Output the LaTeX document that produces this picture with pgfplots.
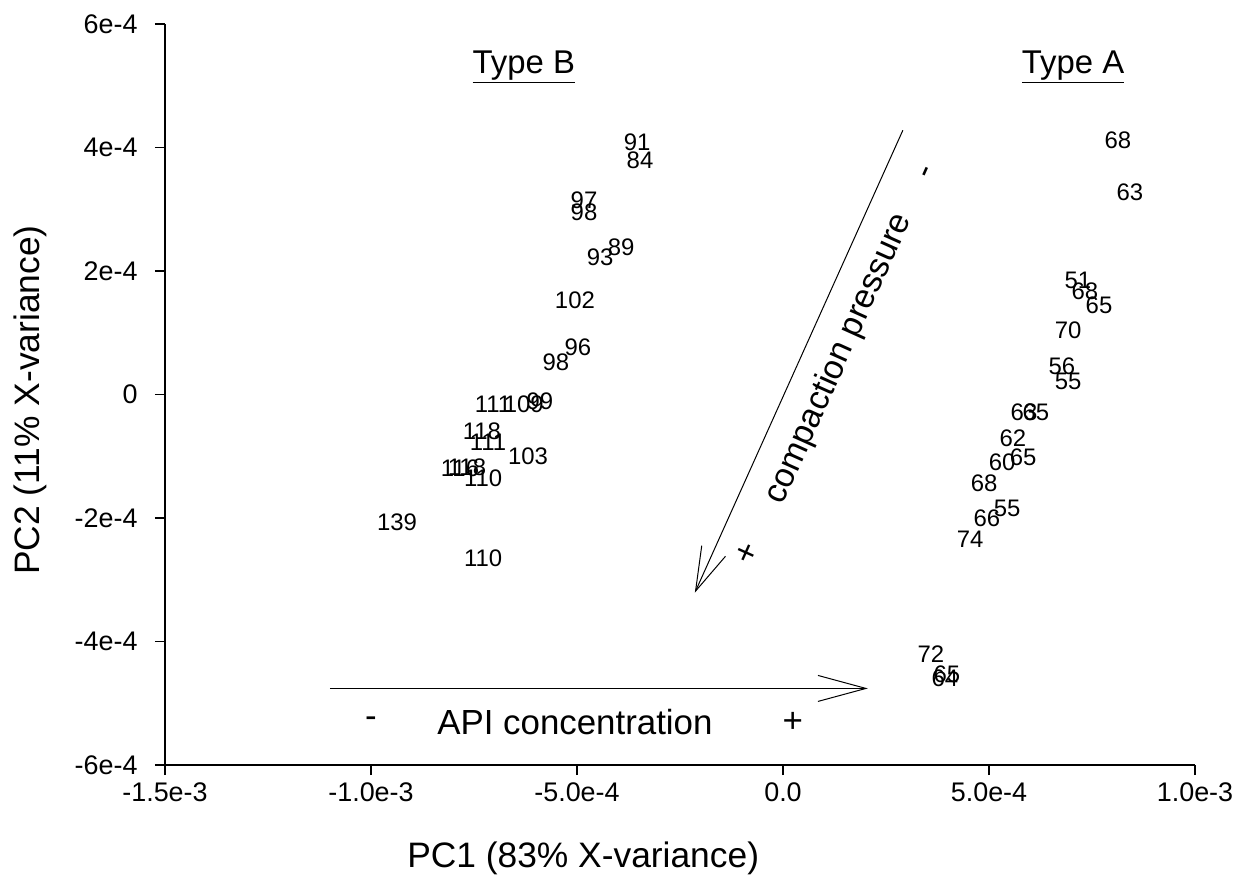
\documentclass[border=0pt]{standalone}
\usepackage{pgfplots}
\pgfplotsset{compat=1.18}
\usepackage{pgfplotstable}
\usetikzlibrary{arrows.meta}
\usepackage{fontspec}
\setmainfont{Liberation Sans}

% PCA scores, labelled by sample value
\pgfplotstableread{
x y label
-3.54e-4 4.08e-4 91
-3.47e-4 3.79e-4 84
-4.83e-4 3.14e-4 97
-4.83e-4 2.95e-4 98
-4.44e-4 2.22e-4 93
-3.93e-4 2.38e-4 89
-5.05e-4 1.52e-4 102
-4.98e-4 0.76e-4 96
-5.51e-4 0.52e-4 98
-7.04e-4 -0.16e-4 111
-6.29e-4 -0.16e-4 109
-5.90e-4 -0.11e-4 99
-7.31e-4 -0.60e-4 118
-7.16e-4 -0.78e-4 111
-6.19e-4 -1.00e-4 103
-7.84e-4 -1.20e-4 116
-7.67e-4 -1.18e-4 118
-7.28e-4 -1.36e-4 110
-9.37e-4 -2.07e-4 139
-7.28e-4 -2.66e-4 110
}\typeB

\pgfplotstableread{
x y label
8.13e-4 4.11e-4 68
8.42e-4 3.27e-4 63
7.16e-4 1.85e-4 51
7.33e-4 1.67e-4 68
7.67e-4 1.44e-4 65
6.92e-4 1.04e-4 70
6.77e-4 0.45e-4 56
6.92e-4 0.21e-4 55
5.85e-4 -0.29e-4 63
6.14e-4 -0.29e-4 65
5.58e-4 -0.71e-4 62
5.83e-4 -1.02e-4 65
5.32e-4 -1.10e-4 60
4.88e-4 -1.43e-4 68
5.44e-4 -1.85e-4 55
4.95e-4 -2.01e-4 66
4.54e-4 -2.35e-4 74
3.59e-4 -4.21e-4 72
3.98e-4 -4.53e-4 65
3.93e-4 -4.60e-4 64
}\typeA

\begin{document}
\begin{tikzpicture}
\path[use as bounding box] (-165bp,-120bp) rectangle (1074bp,765bp);
\begin{axis}[
  at={(0,0)}, anchor=south west,
  scale only axis, width=1030bp, height=741bp,
  xmin=-1.5e-3, xmax=1.0e-3, ymin=-6e-4, ymax=6e-4,
  axis lines*=left,
  axis line style={line width=1.4bp, -},
  scaled ticks=false,
  xtick={-1.5e-3,-1e-3,-5e-4,0,5e-4,1e-3},
  xticklabels={-1.5e-3,-1.0e-3,-5.0e-4,0.0,5.0e-4,1.0e-3},
  ytick={-6e-4,-4e-4,-2e-4,0,2e-4,4e-4,6e-4},
  yticklabels={-6e-4,-4e-4,-2e-4,0,2e-4,4e-4,6e-4},
  tick align=outside,
  major tick length=10bp,
  tick style={line width=1.4bp, black},
  ticklabel style={font=\fontsize{27}{32}\selectfont},
  yticklabel style={xshift=-14bp},
  xticklabel style={yshift=-4bp},
  xlabel={PC1 (83\% X-variance)},
  ylabel={PC2 (11\% X-variance)},
  xlabel style={font=\fontsize{35.5}{42}\selectfont, at={(axis description cs:0.406,-0.1255)}, anchor=center},
  ylabel style={font=\fontsize{35.5}{42}\selectfont, at={(axis description cs:-0.131,0.4926)}, anchor=center},
  clip=false,
  every node near coord/.append style={font=\fontsize{24}{28}\selectfont, inner sep=0pt, anchor=center, black},
]
\addplot[only marks, mark=*, mark size=0pt, mark options={draw=none, fill=none},
  nodes near coords, point meta=explicit symbolic] table[meta=label] {\typeB};
\addplot[only marks, mark=*, mark size=0pt, mark options={draw=none, fill=none},
  nodes near coords, point meta=explicit symbolic] table[meta=label] {\typeA};

% group headings
\node[font=\fontsize{33}{40}\selectfont] at (axis cs:-6.29e-4,5.31e-4) {\underline{Type B}};
\node[font=\fontsize{33}{40}\selectfont] at (axis cs:7.04e-4,5.31e-4) {\underline{Type A}};

% API concentration direction
\draw[line width=1bp, -{Straight Barb[length=48bp, width=26bp, line width=1bp]}]
  (axis cs:-11.0e-4,-4.76e-4) -- (axis cs:2.06e-4,-4.76e-4);
\node[font=\fontsize{35}{42}\selectfont] at (axis cs:-10.0e-4,-5.31e-4) {-};
\node[font=\fontsize{35}{42}\selectfont] at (axis cs:-5.05e-4,-5.31e-4) {API concentration};
\node[font=\fontsize{35}{42}\selectfont] at (axis cs:0.24e-4,-5.31e-4) {+};

% compaction pressure direction
\draw[line width=1bp, -{Straight Barb[length=44bp, width=26bp, line width=1bp]}]
  (axis cs:2.91e-4,4.28e-4) -- (axis cs:-2.14e-4,-3.21e-4);
\node[font=\fontsize{34}{40}\selectfont, rotate=65.8] at (axis cs:1.36e-4,0.58e-4) {compaction pressure};
\node[font=\fontsize{34}{40}\selectfont, rotate=65.8] at (axis cs:3.55e-4,3.58e-4) {-};
\node[font=\fontsize{34}{40}\selectfont, rotate=65.8] at (axis cs:-0.85e-4,-2.57e-4) {+};
\end{axis}
\end{tikzpicture}
\end{document}
